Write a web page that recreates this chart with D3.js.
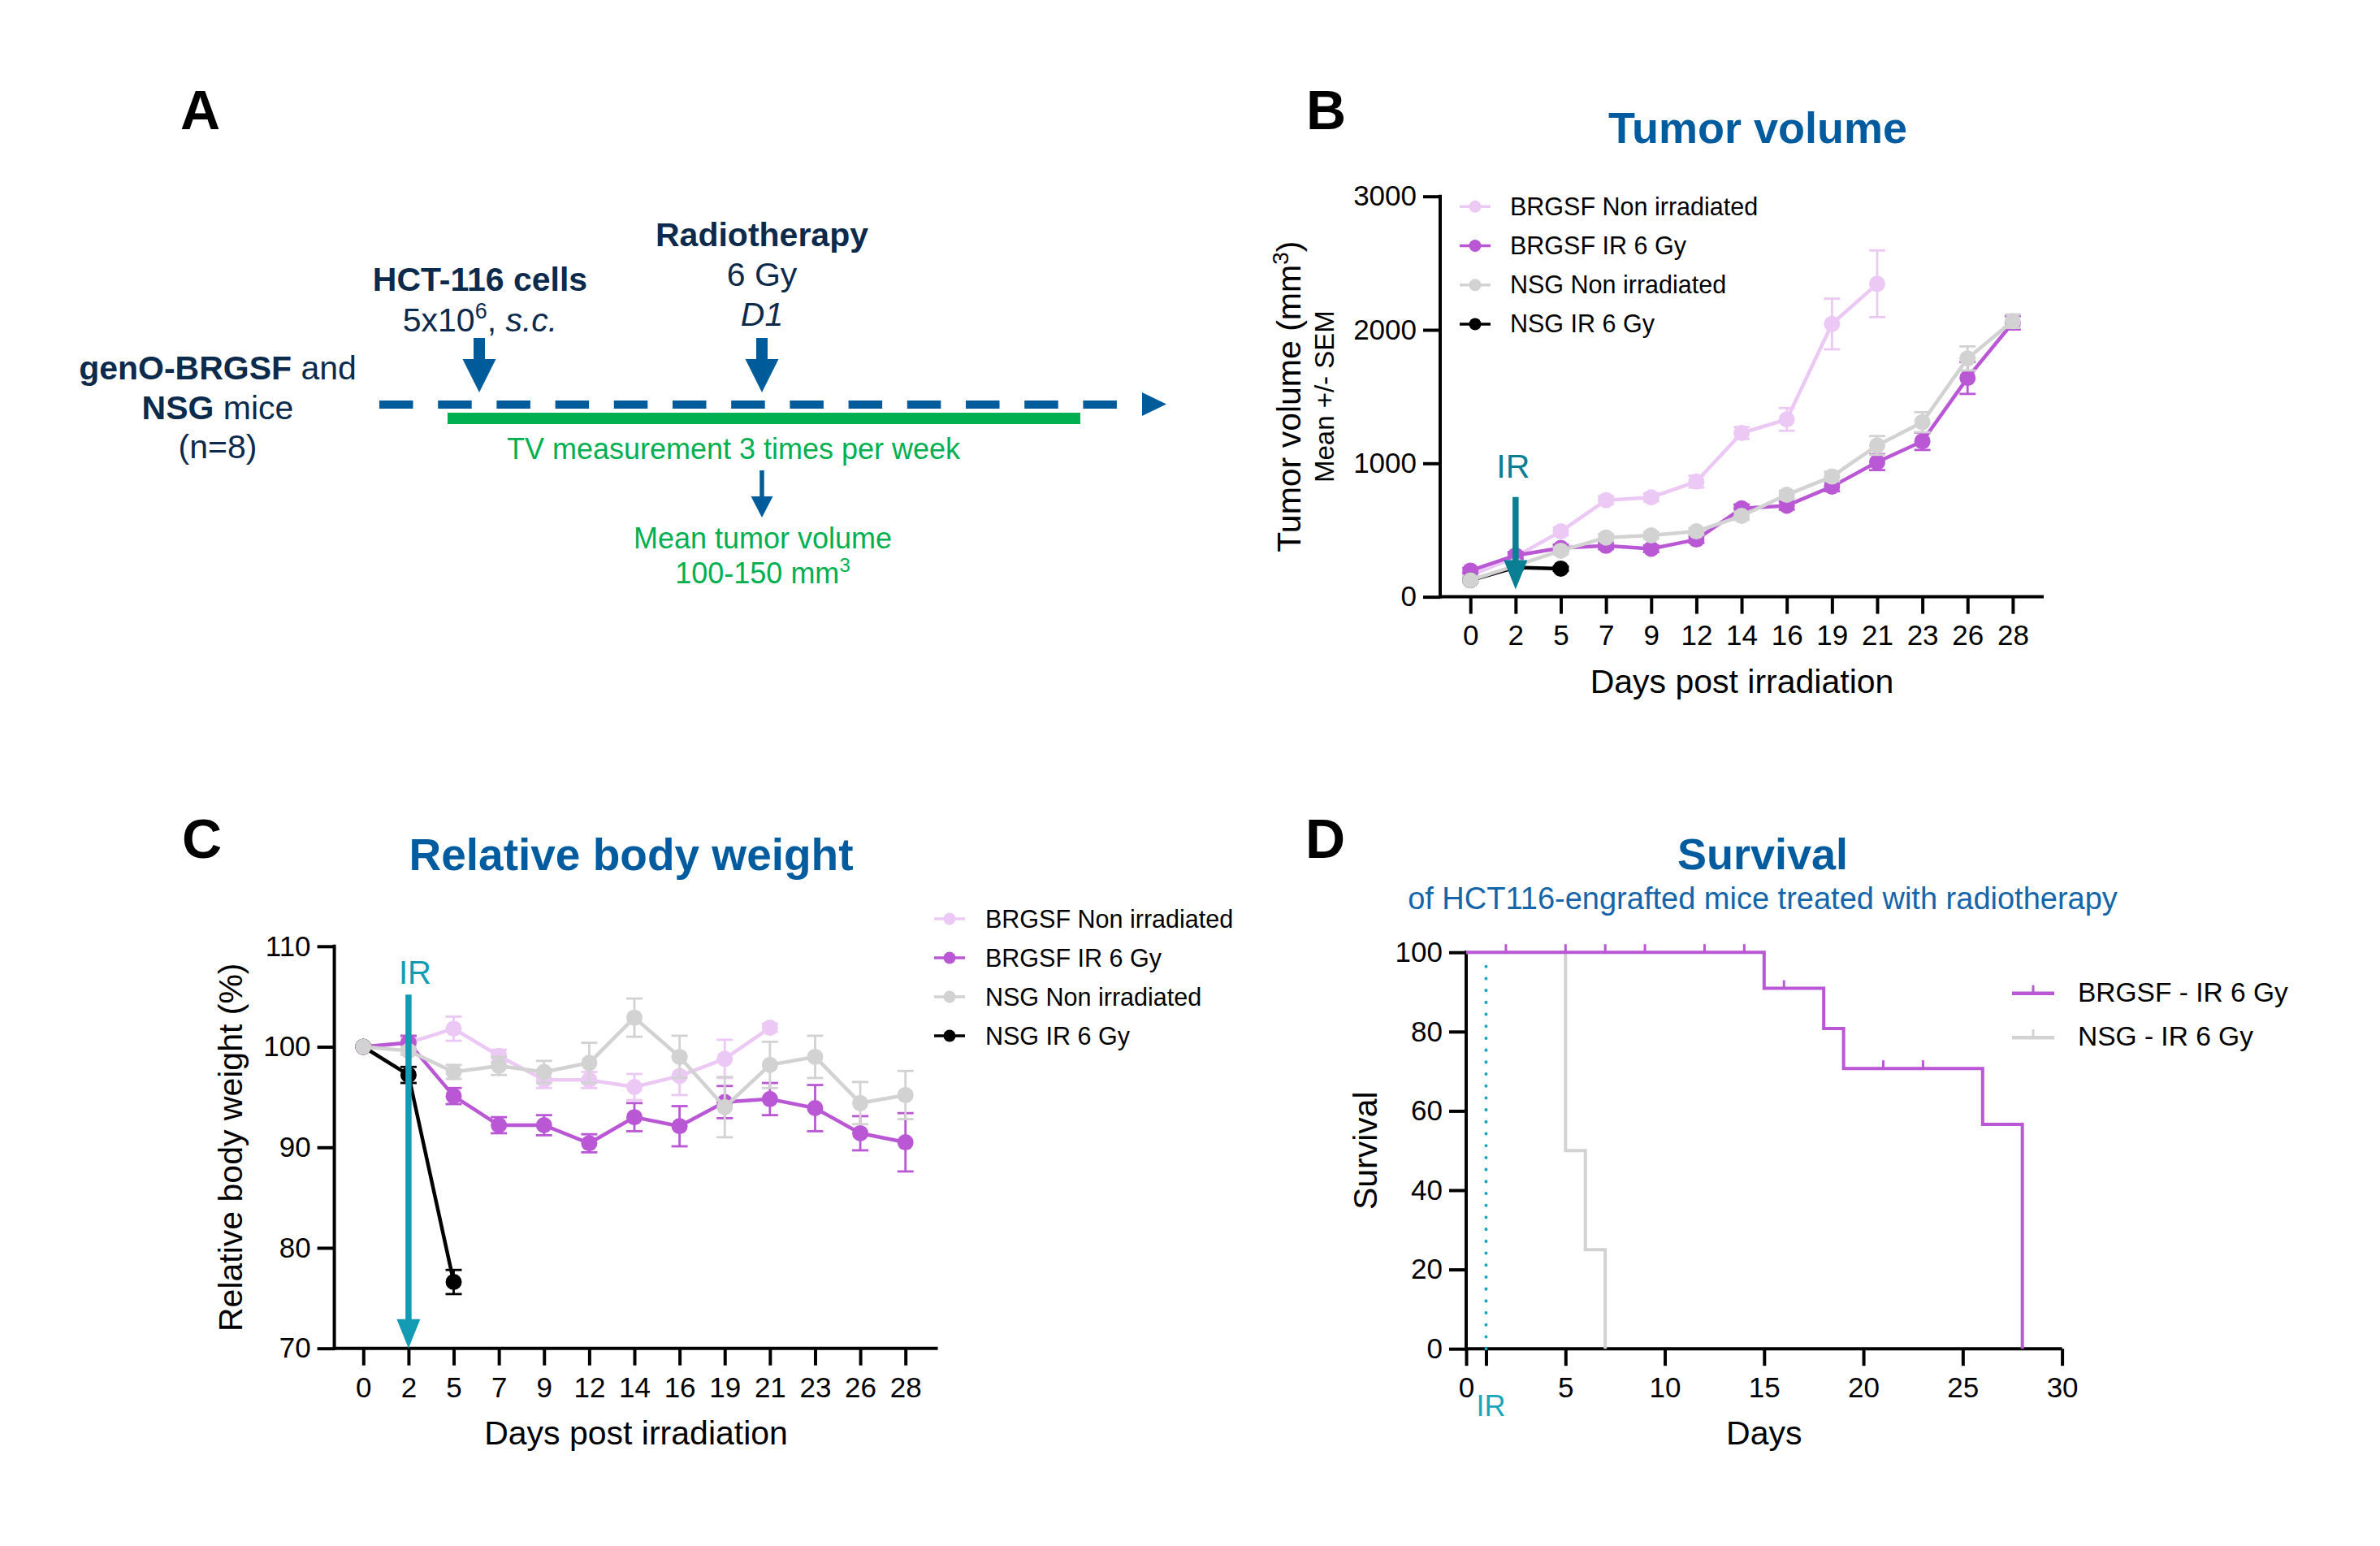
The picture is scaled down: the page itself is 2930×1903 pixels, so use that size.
<!DOCTYPE html>
<html>
<head>
<meta charset="utf-8">
<script src="https://cdn.jsdelivr.net/npm/d3@7"></script>
<style>
  body { margin: 0; background: #fff; }
  text { font-family: "Liberation Sans", Arial, Helvetica, sans-serif; }
</style>
</head>
<body>
<svg id="fig" width="2930" height="1903"></svg>
<script>
// Values
var days = ["0", "2", "5", "7", "9", "12", "14", "16", "19", "21", "23", "26", "28"];
var seriesNames = ["BRGSF Non irradiated", "BRGSF IR 6 Gy", "NSG Non irradiated", "NSG IR 6 Gy"];
var seriesColors = ["#ecc9f5", "#b957d5", "#d2d2d2", "#000000"];

// B - tumor volume (mm3), mean and SEM
var tvBrgsfNon    = [160, 300, 490, 724, 745, 863, 1227, 1329, 2044, 2345];
var tvBrgsfNonSem = [20, 25, 30, 30, 30, 45, 45, 85, 190, 250];
var tvBrgsfIr     = [196, 310, 366, 382, 360, 429, 662, 683, 826, 1009, 1165, 1640, 2053];
var tvBrgsfIrSem  = [20, 25, 25, 25, 25, 25, 30, 30, 35, 60, 65, 120, 50];
var tvNsgNon      = [124, 233, 345, 444, 460, 490, 606, 764, 901, 1134, 1308, 1786, 2065];
var tvNsgNonSem   = [15, 20, 25, 25, 25, 25, 30, 30, 35, 70, 75, 90, 50];
var tvNsgIr       = [124, 220, 211];
var tvNsgIrSem    = [15, 15, 15];
var tvTicks = [0, 1000, 2000, 3000];

// C - relative body weight (%)
var bwBrgsfNon    = [100, 100.4, 101.8, 99.1, 96.7, 96.7, 96.0, 97.1, 98.8, 101.9];
var bwBrgsfNonSem = [0, 0.5, 1.2, 0.6, 0.8, 0.8, 1.3, 1.9, 1.9, 0.4];
var bwBrgsfIr     = [100, 100.4, 95.1, 92.2, 92.2, 90.4, 93.0, 92.1, 94.5, 94.8, 93.9, 91.4, 90.5];
var bwBrgsfIrSem  = [0, 0.7, 0.8, 0.8, 1.0, 0.9, 1.4, 2.0, 1.6, 1.6, 2.3, 1.7, 2.9];
var bwNsgNon      = [100, 99.6, 97.5, 98.1, 97.5, 98.4, 102.9, 99.0, 94.0, 98.2, 99.0, 94.4, 95.2];
var bwNsgNonSem   = [0, 0.4, 0.7, 0.9, 1.1, 2.0, 1.9, 2.1, 3.0, 2.3, 2.1, 2.1, 2.4];
var bwNsgIr       = [100, 97.2, 76.6];
var bwNsgIrSem    = [0, 0.8, 1.2];
var bwTicks = [70, 80, 90, 100, 110];

// D - survival (%)
var survNames = ["BRGSF - IR 6 Gy", "NSG - IR 6 Gy"];
var survColors = ["#b957d5", "#d2d2d2"];
var brgsfTimes = [0, 15, 18, 19, 26, 28];
var brgsfSurv  = [100, 90.9, 80.8, 70.7, 56.6, 0];
var brgsfCensorDays = [2, 5, 7, 9, 12, 14, 16, 21, 23];
var brgsfCensorSurv = [100, 100, 100, 100, 100, 100, 90.9, 70.7, 70.7];
var nsgTimes = [0, 5, 6, 7];
var nsgSurv  = [100, 50, 25, 0];
var survXTicks = [0, 5, 10, 15, 20, 25, 30];
var survYTicks = [0, 20, 40, 60, 80, 100];
var irDay = 1;

var navy = "#0c2a4b", blue = "#005c9e", green = "#00b050";
var svg = d3.select("#fig");
svg.append("rect").attr("width", 2930).attr("height", 1903).attr("fill", "#fff");

// panel letters
[["A", 222, 159], ["B", 1608, 159], ["C", 224, 1056], ["D", 1607, 1056]].forEach(function(l) {
  svg.append("text").attr("x", l[1]).attr("y", l[2]).text(l[0])
    .attr("font-size", 68).attr("font-weight", "bold").attr("fill", "#000");
});

// ---------- A : protocol timeline ----------
var a = svg.append("g");
function arrowDown(g, cx, y0, yHead, yTip, shaftW, headW, color) {
  g.append("path")
    .attr("d", "M" + (cx - shaftW / 2) + "," + y0 + "H" + (cx + shaftW / 2) + "V" + yHead +
      "H" + (cx + headW / 2) + "L" + cx + "," + yTip + "L" + (cx - headW / 2) + "," + yHead +
      "H" + (cx - shaftW / 2) + "Z")
    .attr("fill", color);
}
// dashed time axis
for (var i = 0; i < 13; i++) {
  a.append("rect").attr("x", 467 + i * 72.2).attr("y", 493).attr("width", 41.5).attr("height", 10).attr("fill", "#005b9b");
}
a.append("path").attr("d", "M1406,483L1436,497.5L1406,512Z").attr("fill", "#005b9b");
a.append("rect").attr("x", 551).attr("y", 508).attr("width", 779).attr("height", 14).attr("fill", green);

arrowDown(a, 590, 416, 442, 483, 14, 41, "#005b9b");
arrowDown(a, 938, 416, 442, 483, 14, 41, "#005b9b");
arrowDown(a, 938, 579, 611, 637, 5.5, 27, "#005b9b");

var t1 = a.append("text").attr("x", 268).attr("y", 467).attr("text-anchor", "middle").attr("font-size", 41).attr("fill", navy);
t1.append("tspan").attr("font-weight", "bold").text("genO-BRGSF");
t1.append("tspan").text(" and");
var t2 = a.append("text").attr("x", 268).attr("y", 516).attr("text-anchor", "middle").attr("font-size", 41).attr("fill", navy);
t2.append("tspan").attr("font-weight", "bold").text("NSG");
t2.append("tspan").text(" mice");
a.append("text").attr("x", 268).attr("y", 564).attr("text-anchor", "middle").attr("font-size", 41).attr("fill", navy).text("(n=8)");

a.append("text").attr("x", 591).attr("y", 358).attr("text-anchor", "middle").attr("font-size", 41)
  .attr("font-weight", "bold").attr("fill", navy).text("HCT-116 cells");
var t3 = a.append("text").attr("x", 591).attr("y", 408).attr("text-anchor", "middle").attr("font-size", 41).attr("fill", navy);
t3.append("tspan").text("5x10");
t3.append("tspan").attr("font-size", 27).attr("dy", -16).text("6");
t3.append("tspan").attr("dy", 16).text(", ");
t3.append("tspan").attr("font-style", "italic").text("s.c.");

a.append("text").attr("x", 938).attr("y", 303).attr("text-anchor", "middle").attr("font-size", 41)
  .attr("font-weight", "bold").attr("fill", navy).text("Radiotherapy");
a.append("text").attr("x", 938).attr("y", 352).attr("text-anchor", "middle").attr("font-size", 41).attr("fill", navy).text("6 Gy");
a.append("text").attr("x", 938).attr("y", 401).attr("text-anchor", "middle").attr("font-size", 41)
  .attr("font-style", "italic").attr("fill", navy).text("D1");

a.append("text").attr("x", 903).attr("y", 565).attr("text-anchor", "middle").attr("font-size", 36).attr("fill", green)
  .text("TV measurement 3 times per week");
a.append("text").attr("x", 939).attr("y", 675).attr("text-anchor", "middle").attr("font-size", 36).attr("fill", green)
  .text("Mean tumor volume");
var t4 = a.append("text").attr("x", 939).attr("y", 718).attr("text-anchor", "middle").attr("font-size", 36).attr("fill", green);
t4.append("tspan").text("100-150 mm");
t4.append("tspan").attr("font-size", 24).attr("dy", -14).text("3");

// ---------- shared helpers ----------
function styleAxis(g, fontSize) {
  g.select(".domain").remove();
  g.selectAll(".tick line").attr("stroke", "#000").attr("stroke-width", 4);
  g.selectAll(".tick text").attr("fill", "#000").attr("font-size", fontSize)
    .attr("font-family", '"Liberation Sans", Arial, sans-serif');
}

function frame(g, left, right, top, bottom) {
  g.append("line").attr("x1", left).attr("x2", left).attr("y1", top - 2).attr("y2", bottom + 2)
    .attr("stroke", "#000").attr("stroke-width", 4);
  g.append("line").attr("x1", left - 2).attr("x2", right).attr("y1", bottom).attr("y2", bottom)
    .attr("stroke", "#000").attr("stroke-width", 4);
}

function drawSeries(g, x, y, vals, sems, color) {
  var pts = vals.map(function(v, i) { return {day: days[i], v: v, s: sems[i]}; });
  g.append("path").datum(pts)
    .attr("fill", "none").attr("stroke", color).attr("stroke-width", 4.5).attr("stroke-linejoin", "round")
    .attr("d", d3.line().x(function(d) { return x(d.day); }).y(function(d) { return y(d.v); }));
  var eb = g.selectAll(null).data(pts.filter(function(d) { return d.s > 0; })).enter().append("g")
    .attr("stroke", color).attr("stroke-width", 2.8);
  eb.append("line")
    .attr("x1", function(d) { return x(d.day); }).attr("x2", function(d) { return x(d.day); })
    .attr("y1", function(d) { return y(d.v - d.s); }).attr("y2", function(d) { return y(d.v + d.s); });
  [-1, 1].forEach(function(k) {
    eb.append("line")
      .attr("x1", function(d) { return x(d.day) - 10; }).attr("x2", function(d) { return x(d.day) + 10; })
      .attr("y1", function(d) { return y(d.v + k * d.s); }).attr("y2", function(d) { return y(d.v + k * d.s); });
  });
  g.selectAll(null).data(pts).enter().append("circle")
    .attr("cx", function(d) { return x(d.day); }).attr("cy", function(d) { return y(d.v); })
    .attr("r", 10).attr("fill", color);
}

function drawLegend(g, cx, cy0, step, textX) {
  seriesNames.forEach(function(name, i) {
    var cy = cy0 + i * step;
    g.append("line").attr("x1", cx - 19).attr("x2", cx + 19).attr("y1", cy).attr("y2", cy)
      .attr("stroke", seriesColors[i]).attr("stroke-width", 3.5);
    g.append("circle").attr("cx", cx).attr("cy", cy).attr("r", 7.5).attr("fill", seriesColors[i]);
    g.append("text").attr("x", textX).attr("y", cy + 10.5).attr("font-size", 30.5).attr("fill", "#000").text(name);
  });
}

function irArrow(g, cx, yTop, yTip, color) {
  arrowDown(g, cx, yTop, yTip - 36, yTip, 7.5, 29, color);
}

// ---------- B : tumor volume ----------
var bL = 1773, bR = 2516, bT = 241.7, bB = 734.6;
var b = svg.append("g");
var xB = d3.scalePoint().domain(days).range([1810.2, 2477.9]);
var yB = d3.scaleLinear().domain([0, 3000]).range([bB, bT]);

b.append("g").attr("transform", "translate(0," + bB + ")")
  .call(d3.axisBottom(xB).tickSize(21).tickPadding(14).tickSizeOuter(0))
  .call(styleAxis, 35);
b.append("g").attr("transform", "translate(" + bL + ",0)")
  .call(d3.axisLeft(yB).tickValues(tvTicks).tickFormat(d3.format("d")).tickSize(21).tickPadding(8).tickSizeOuter(0))
  .call(styleAxis, 35);
frame(b, bL, bR, bT, bB);

drawSeries(b, xB, yB, tvBrgsfNon, tvBrgsfNonSem, seriesColors[0]);
drawSeries(b, xB, yB, tvBrgsfIr, tvBrgsfIrSem, seriesColors[1]);
drawSeries(b, xB, yB, tvNsgIr, tvNsgIrSem, seriesColors[3]);
drawSeries(b, xB, yB, tvNsgNon, tvNsgNonSem, seriesColors[2]);

irArrow(b, xB("2"), yB(748), yB(56), "#0a7e92");
b.append("text").attr("x", xB("2") - 3).attr("y", yB(890)).attr("text-anchor", "middle")
  .attr("font-size", 41).attr("fill", "#0a7e92").text("IR");

drawLegend(b, 1816, 254.3, 48.2, 1859);

b.append("text").attr("x", 2164).attr("y", 176).attr("text-anchor", "middle").attr("font-size", 54)
  .attr("font-weight", "bold").attr("fill", blue).text("Tumor volume");
b.append("text").attr("x", (bL + bR) / 2).attr("y", bB + 118).attr("text-anchor", "middle")
  .attr("font-size", 41).attr("fill", "#000").text("Days post irradiation");
var yt = b.append("text").attr("transform", "translate(1601," + ((bT + bB) / 2) + ") rotate(-90)")
  .attr("text-anchor", "middle").attr("font-size", 41).attr("fill", "#000");
yt.append("tspan").text("Tumor volume (mm");
yt.append("tspan").attr("font-size", 28).attr("dy", -15).text("3");
yt.append("tspan").attr("dy", 15).text(")");
b.append("text").attr("transform", "translate(1642," + ((bT + bB) / 2) + ") rotate(-90)")
  .attr("text-anchor", "middle").attr("font-size", 33).attr("fill", "#000").text("Mean +/- SEM");

// ---------- C : relative body weight ----------
var cL = 411.6, cR = 1154.5, cT = 1164.8, cB = 1659.7;
var c = svg.append("g");
var xC = d3.scalePoint().domain(days).range([447.3, 1114.7]);
var yC = d3.scaleLinear().domain([70, 110]).range([cB, cT]);

c.append("g").attr("transform", "translate(0," + cB + ")")
  .call(d3.axisBottom(xC).tickSize(21).tickPadding(14).tickSizeOuter(0))
  .call(styleAxis, 35);
c.append("g").attr("transform", "translate(" + cL + ",0)")
  .call(d3.axisLeft(yC).tickValues(bwTicks).tickSize(21).tickPadding(8).tickSizeOuter(0))
  .call(styleAxis, 35);
frame(c, cL, cR, cT, cB);

drawSeries(c, xC, yC, bwBrgsfNon, bwBrgsfNonSem, seriesColors[0]);
drawSeries(c, xC, yC, bwBrgsfIr, bwBrgsfIrSem, seriesColors[1]);
drawSeries(c, xC, yC, bwNsgIr, bwNsgIrSem, seriesColors[3]);
drawSeries(c, xC, yC, bwNsgNon, bwNsgNonSem, seriesColors[2]);

irArrow(c, xC("2"), yC(105.2), yC(70), "#129bb3");
c.append("text").attr("x", xC("2") + 8).attr("y", yC(106.3)).attr("text-anchor", "middle")
  .attr("font-size", 40).attr("fill", "#129bb3").text("IR");

drawLegend(c, 1169, 1131, 48, 1213);

c.append("text").attr("x", 777).attr("y", 1071).attr("text-anchor", "middle").attr("font-size", 55)
  .attr("font-weight", "bold").attr("fill", blue).text("Relative body weight");
c.append("text").attr("x", (cL + cR) / 2).attr("y", cB + 118).attr("text-anchor", "middle")
  .attr("font-size", 41).attr("fill", "#000").text("Days post irradiation");
c.append("text").attr("transform", "translate(298," + ((cT + cB) / 2) + ") rotate(-90)")
  .attr("text-anchor", "middle").attr("font-size", 41).attr("fill", "#000").text("Relative body weight (%)");

// ---------- D : survival ----------
var dL = 1805, dR = 2538.6, dT = 1172.2, dB = 1660.2;
var dg = svg.append("g");
var xD = d3.scaleLinear().domain([0, 30]).range([dL, dR]);
var yD = d3.scaleLinear().domain([0, 100]).range([dB, dT]);

dg.append("g").attr("transform", "translate(0," + dB + ")")
  .call(d3.axisBottom(xD).tickValues(survXTicks.concat([irDay])).tickFormat(function(d) { return d === irDay ? "" : d; })
    .tickSize(21).tickPadding(14).tickSizeOuter(0))
  .call(styleAxis, 35);
dg.append("g").attr("transform", "translate(" + dL + ",0)")
  .call(d3.axisLeft(yD).tickValues(survYTicks).tickSize(21).tickPadding(8).tickSizeOuter(0))
  .call(styleAxis, 35);
frame(dg, dL, dR, dT, dB);

// irradiation day marker
dg.append("line").attr("x1", xD(irDay)).attr("x2", xD(irDay)).attr("y1", yD(0)).attr("y2", yD(97))
  .attr("stroke", "#1aa5bc").attr("stroke-width", 4).attr("stroke-linecap", "round")
  .attr("stroke-dasharray", "0.1,14.6");
dg.append("text").attr("x", xD(irDay) + 6).attr("y", dB + 83).attr("text-anchor", "middle")
  .attr("font-size", 36).attr("fill", "#1aa5bc").text("IR");

var step = d3.line().curve(d3.curveStepAfter)
  .x(function(d) { return xD(d[0]); }).y(function(d) { return yD(d[1]); });
dg.append("path").datum(d3.zip(nsgTimes, nsgSurv)).attr("d", step)
  .attr("fill", "none").attr("stroke", survColors[1]).attr("stroke-width", 4);
dg.append("path").datum(d3.zip(brgsfTimes, brgsfSurv)).attr("d", step)
  .attr("fill", "none").attr("stroke", survColors[0]).attr("stroke-width", 4);
dg.selectAll(null).data(d3.zip(brgsfCensorDays, brgsfCensorSurv)).enter().append("line")
  .attr("x1", function(d) { return xD(d[0]); }).attr("x2", function(d) { return xD(d[0]); })
  .attr("y1", function(d) { return yD(d[1]); }).attr("y2", function(d) { return yD(d[1]) - 10; })
  .attr("stroke", survColors[0]).attr("stroke-width", 3);

survNames.forEach(function(name, i) {
  var ly = 1222.7 + i * 54.5;
  dg.append("line").attr("x1", 2477).attr("x2", 2529).attr("y1", ly).attr("y2", ly)
    .attr("stroke", survColors[i]).attr("stroke-width", 4.5);
  dg.append("line").attr("x1", 2503).attr("x2", 2503).attr("y1", ly).attr("y2", ly - 10)
    .attr("stroke", survColors[i]).attr("stroke-width", 3);
  dg.append("text").attr("x", 2558).attr("y", ly + 10).attr("font-size", 33.5).attr("fill", "#000").text(name);
});

dg.append("text").attr("x", 2170).attr("y", 1070).attr("text-anchor", "middle").attr("font-size", 54)
  .attr("font-weight", "bold").attr("fill", blue).text("Survival");
dg.append("text").attr("x", 2170).attr("y", 1119).attr("text-anchor", "middle").attr("font-size", 38)
  .attr("fill", "#1565a8").text("of HCT116-engrafted mice treated with radiotherapy");
dg.append("text").attr("x", (dL + dR) / 2).attr("y", dB + 118).attr("text-anchor", "middle")
  .attr("font-size", 41).attr("fill", "#000").text("Days");
dg.append("text").attr("transform", "translate(1695," + ((dT + dB) / 2) + ") rotate(-90)")
  .attr("text-anchor", "middle").attr("font-size", 41).attr("fill", "#000").text("Survival");
</script>
</body>
</html>
